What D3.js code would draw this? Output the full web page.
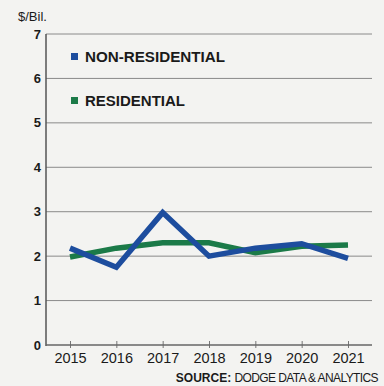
<!DOCTYPE html>
<meta charset="utf-8">
<style>
  body { margin: 0; background: #f3f3f1; }
  svg { display: block; }
  text { font-family: "Liberation Sans", Arial, sans-serif; fill: #1a1a1a; }
  .grid line { stroke: #8a8a8a; stroke-width: 1; }
  .line { fill: none; stroke-linejoin: miter; stroke-linecap: butt; }
</style>
<body>
<script src="https://d3js.org/d3.v7.min.js"></script>
<script>

// data
var years = [2015, 2016, 2017, 2018, 2019, 2020, 2021];
var nonResidential = [2.18, 1.75, 2.98, 2.0, 2.18, 2.28, 1.95];
var residential = [1.98, 2.18, 2.3, 2.3, 2.08, 2.22, 2.25];
var yTicks = [0, 1, 2, 3, 4, 5, 6, 7];

var series = [
  {name: "NON-RESIDENTIAL", values: nonResidential, color: "#1d4d9e"},
  {name: "RESIDENTIAL", values: residential, color: "#1b7a48"}
];

var W = 384, H = 386;
var svg = d3.select("body").append("svg").attr("width", W).attr("height", H);

var x = d3.scalePoint().domain(years).range([70, 348]);
var y = d3.scaleLinear().domain([0, 7]).range([345, 34]);

// gridlines
svg.append("g").attr("class", "grid")
  .selectAll("line")
  .data(yTicks.filter(function(d) { return d > 0; }))
  .enter().append("line")
  .attr("x1", 46).attr("x2", 372)
  .attr("y1", function(d) { return y(d); })
  .attr("y2", function(d) { return y(d); });

// y tick labels
svg.append("g")
  .selectAll("text")
  .data(yTicks)
  .enter().append("text")
  .attr("x", 41)
  .attr("y", function(d) { return y(d); })
  .attr("dy", "0.35em")
  .attr("text-anchor", "end")
  .style("font-size", "13px")
  .style("font-weight", "bold")
  .attr("fill", "#333")
  .text(function(d) { return d; });

svg.append("text")
  .attr("x", 18).attr("y", 21)
  .style("font-size", "13px")
  .text("$/Bil.");

// axes lines
svg.append("line")
  .attr("x1", 46).attr("x2", 46)
  .attr("y1", y(7)).attr("y2", y(0) + 1)
  .attr("stroke", "#555").attr("stroke-width", 1.5);

var xAxis = svg.append("g")
  .attr("transform", "translate(0," + y(0) + ")")
  .call(d3.axisBottom(x).tickSize(5).tickSizeOuter(0).tickPadding(3));
xAxis.select(".domain").remove();
xAxis.append("line").attr("x1", 46).attr("x2", 372)
  .attr("stroke", "#666").attr("stroke-width", 1.5);
xAxis.selectAll(".tick line").attr("stroke", "#777").attr("y1", -4).attr("y2", 3);
xAxis.selectAll(".tick text")
  .style("font-size", "14.5px")
  .style("font-family", "\"Liberation Sans\", Arial, sans-serif")
  .attr("fill", "#1a1a1a");

// lines
var line = d3.line()
  .x(function(d, i) { return x(years[i]); })
  .y(function(d) { return y(d); });

svg.selectAll(".line")
  .data(series.slice().reverse())
  .enter().append("path")
  .attr("class", "line")
  .attr("d", function(d) { return line(d.values); })
  .attr("stroke", function(d) { return d.color; })
  .attr("stroke-width", 5.5);

// legend
var legend = svg.selectAll(".legend")
  .data(series)
  .enter().append("g")
  .attr("transform", function(d, i) { return "translate(71," + (53 + i * 44) + ")"; });

legend.append("rect")
  .attr("width", 7).attr("height", 7)
  .attr("fill", function(d) { return d.color; });

legend.append("text")
  .attr("x", 14).attr("y", 8.5)
  .style("font-size", "14.5px")
  .style("font-weight", "bold")
  .attr("textLength", function(d) { return d.name.length > 12 ? 140 : 100; })
  .attr("lengthAdjust", "spacingAndGlyphs")
  .text(function(d) { return d.name; });

// source
var src = svg.append("text")
  .attr("x", 378).attr("y", 382)
  .attr("text-anchor", "end")
  .style("font-size", "12px");
src.append("tspan").style("font-weight", "bold").style("font-stretch", "condensed").text("SOURCE: ");
src.append("tspan").attr("letter-spacing", "-0.6").text("DODGE DATA & ANALYTICS");

</script>
</body>
